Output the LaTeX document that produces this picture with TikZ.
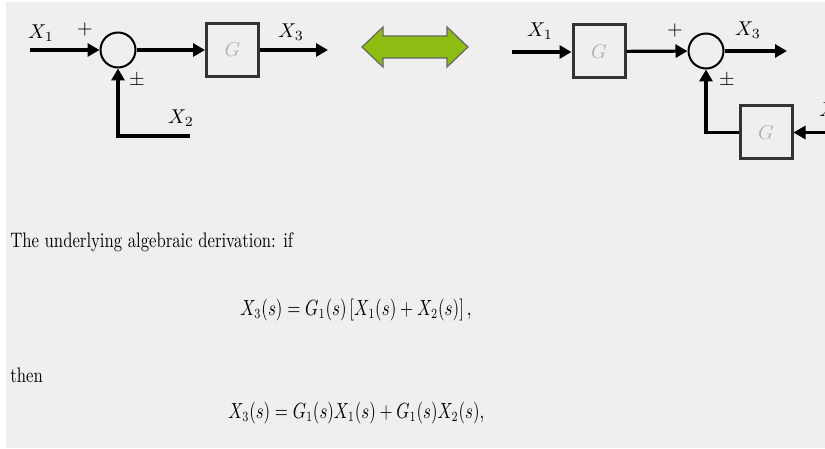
\documentclass[tikz,border=0pt]{standalone}
\usetikzlibrary{arrows.meta, calc}
\definecolor{panel}{RGB}{239,239,239}
\definecolor{arrgreen}{RGB}{141,189,18}
\tikzset{
  sum/.style={circle, draw, line width=1pt, minimum size=17.5pt, inner sep=0pt},
  blk/.style={draw=black!80, line width=1.5pt, minimum width=26pt, minimum height=26.5pt, inner sep=0pt, text=black!30, font=\fontsize{10}{12}\selectfont},
  sig/.style={-{Triangle[length=6pt, width=6.5pt]}, line width=1.6pt},
  slab/.style={font=\fontsize{10}{12}\selectfont, inner sep=0pt},
  txt/.style={inner sep=0pt, font=\fontsize{10.5}{12}\selectfont}
}
\newcommand{\narrow}[2][0.79]{\scalebox{#1}[1]{#2}}

\begin{document}
\begin{tikzpicture}[x=0.5pt, y=-0.5pt]
		\useasboundingbox (0,0) rectangle (825,449);
		\fill[panel] (6,2) rectangle (825,448);
		% left diagram
		\node[sum] (s1) at (118,50) {};
		\node[blk] (g1) at (232.5,50) {$G$};
		\coordinate (in1) at (30,50);
		\coordinate (out1) at (328,50);
		\coordinate (x2l) at (190,136);
		\draw[sig] (in1) -- (s1);
		\draw[sig] (s1) -- (g1);
		\draw[sig] (g1) -- (out1);
		\draw[sig] (x2l) -| (s1.south);
		\node[slab] (lx1) at (41,33) {$X_1$};
		\node[slab] (lp1) at (85,30) {$+$};
		\node[slab] (lx3) at (291,32) {$X_3$};
		\node[slab] (lpm1) at (137,81) {$\pm$};
		\node[slab] (lx2) at (181,118) {$X_2$};
		% equivalence arrow
		\filldraw[fill=arrgreen, draw=black!60, line width=0.6pt]
			(362,47) -- (383,27) -- (383,36) -- (447,36) -- (447,27) -- (468,47)
			-- (447,67) -- (447,58) -- (383,58) -- (383,67) -- cycle;
		% right diagram
		\node[blk] (g2) at (599,51.5) {$G$};
		\node[sum] (s2) at (706,51) {};
		\node[blk] (g3) at (766,132.5) {$G$};
		\coordinate (in2) at (512,52);
		\coordinate (out2) at (787,51);
		\coordinate (x2r) at (840,132.5);
		\draw[sig] (in2) -- (g2.west |- in2);
		\draw[sig] (g2) -- (s2);
		\draw[sig] (s2) -- (out2);
		\draw[sig] (x2r) -- (g3);
		\draw[sig] (g3.west) -| (s2.south);
		\node[slab] (rx1) at (540,31) {$X_1$};
		\node[slab] (rp1) at (675,31) {$+$};
		\node[slab] (rx3) at (748,30) {$X_3$};
		\node[slab] (rpm1) at (727,81) {$\pm$};
		\node[slab, anchor=west] (rx2) at (819,111) {$X_2$};
		% derivation text
		\node[txt, anchor=base west] (t1) at (10,248) {\narrow[0.795]{The underlying algebraic derivation: if}};
		\node[txt, anchor=base west] (e1) at (240,315) {\narrow[0.775]{$X_3(s) = G_1(s)\,[X_1(s) + X_2(s)]\,,$}};
		\node[txt, anchor=base west] (t2) at (10,382) {\narrow[0.795]{then}};
		\node[txt, anchor=base west] (e2) at (228,418) {\narrow[0.77]{$X_3(s) = G_1(s) X_1(s) + G_1(s) X_2(s),$}};
\end{tikzpicture}
\end{document}
